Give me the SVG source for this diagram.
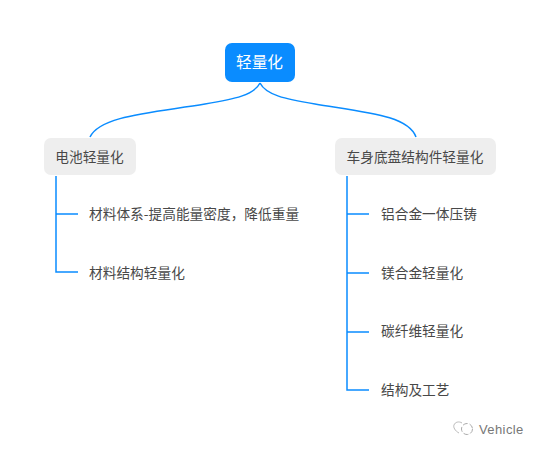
<svg xmlns="http://www.w3.org/2000/svg" width="539" height="450" viewBox="0 0 539 450">
<style>
text{font-family:"Noto Sans CJK SC","Noto Sans",sans-serif;font-size:13.700px;fill:#484848;dominant-baseline:central}
.c{fill:none;stroke:#0a8cff;stroke-width:1.500}
.b{fill:#eeeeee}
</style>
<rect width="539" height="450" fill="#fff"/>
<g id="connectors">
<path class="c" d="M260 83C254 95 235 99 205 104C150 113 100 116 90 137"/>
<path class="c" d="M260 83C266 95 285 99 315 104C370 113 408 116 416 137"/>
<path class="c" d="M56 176V272H78M56 214H78"/>
<path class="c" d="M347 176V390H369M347 214H369M347 273H369M347 332H369"/>
</g>
<g id="root"><rect x="225" y="43" width="70" height="39" rx="7" fill="#0a8cff"/><text x="259.500" y="61" text-anchor="middle" style="font-size:15.700px;fill:#fff">轻量化</text></g>
<g id="battery"><rect class="b" x="44" y="138" width="92" height="37" rx="7"/><text x="89.500" y="156" text-anchor="middle">电池轻量化</text></g>
<g id="body"><rect class="b" x="335" y="138" width="161" height="37" rx="7"/><text x="415" y="156" text-anchor="middle">车身底盘结构件轻量化</text></g>
<g id="leaf1"><text x="89" y="213">材料体系-提高能量密度，降低重量</text></g>
<g id="leaf2"><text x="89" y="272">材料结构轻量化</text></g>
<g id="leaf3"><text x="381" y="213">铝合金一体压铸</text></g>
<g id="leaf4"><text x="381" y="272">镁合金轻量化</text></g>
<g id="leaf5"><text x="381" y="330">碳纤维轻量化</text></g>
<g id="leaf6"><text x="381" y="389">结构及工艺</text></g>
<g id="watermark">
<path d="M459 433c-4-2-6-6-5-8c1-3 5-4 8-2" fill="none" stroke="#bbb" stroke-width="1"/>
<circle cx="467" cy="429" r="5.500" fill="none" stroke="#aaa" stroke-width="1" stroke-dasharray="5 2"/>
<text x="479" y="429" style="font-family:'Liberation Sans',sans-serif;font-size:13px;letter-spacing:.4px;fill:#777">Vehicle</text>
</g>
</svg>
